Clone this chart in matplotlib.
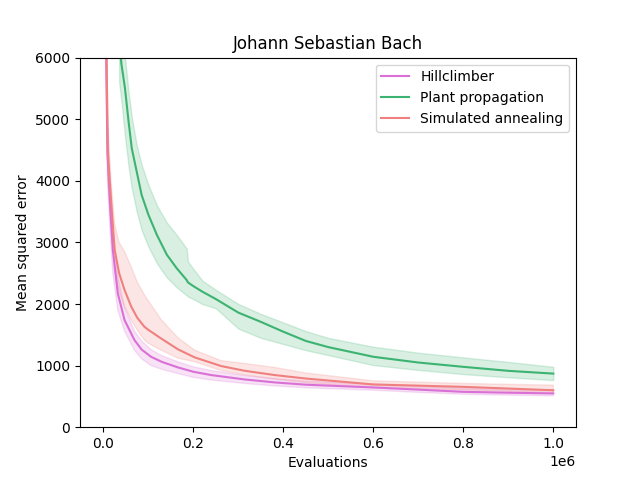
import matplotlib
matplotlib.use("Agg")
import matplotlib.pyplot as plt

# evaluations (in millions, scaled to 1e6 on plot)
hcX = [0.003, 0.009, 0.015, 0.021, 0.032, 0.047, 0.069, 0.085, 0.106, 0.13, 0.166, 0.2, 0.24, 0.314, 0.381, 0.45, 0.6, 0.7, 0.8, 0.9, 1.0]
hcMean = [8000, 4450, 3600, 2880, 2174, 1740, 1415, 1260, 1143, 1060, 970, 900, 846, 775, 727, 690, 645, 610, 574, 560, 548]
hcLow = [7200, 4000, 3150, 2500, 1900, 1560, 1250, 1110, 1000, 940, 870, 810, 765, 710, 670, 640, 600, 565, 535, 520, 510]
hcHigh = [8800, 4900, 4000, 3250, 2450, 1950, 1560, 1400, 1260, 1160, 1060, 980, 920, 840, 790, 750, 700, 665, 630, 610, 600]

ppX = [0.035, 0.04, 0.048, 0.056, 0.063, 0.074, 0.085, 0.1, 0.119, 0.141, 0.163, 0.185, 0.188, 0.2, 0.22, 0.25, 0.3, 0.35, 0.4, 0.45, 0.5, 0.6, 0.7, 0.8, 0.9, 1.0]
ppMean = [6300, 5900, 5500, 4960, 4530, 4150, 3770, 3450, 3120, 2800, 2580, 2390, 2350, 2290, 2200, 2080, 1860, 1710, 1550, 1400, 1300, 1143, 1050, 980, 915, 870]
ppLow = [5600, 5300, 4720, 4230, 3881, 3501, 3200, 2930, 2660, 2430, 2270, 2140, 2120, 2080, 2000, 1930, 1600, 1450, 1350, 1250, 1170, 1008, 930, 862, 810, 765]
ppHigh = [7200, 6700, 6000, 5440, 5040, 4580, 4260, 3935, 3600, 3320, 3122, 2900, 2690, 2570, 2380, 2230, 2000, 1840, 1700, 1560, 1450, 1306, 1210, 1133, 1060, 980]

saX = [0.003, 0.01, 0.017, 0.025, 0.035, 0.047, 0.062, 0.075, 0.091, 0.1, 0.128, 0.166, 0.203, 0.262, 0.314, 0.381, 0.45, 0.6, 0.8, 1.0]
saMean = [8000, 4450, 3690, 2880, 2500, 2228, 1956, 1780, 1631, 1580, 1442, 1263, 1133, 992, 916, 846, 790, 694, 655, 600]
saLow = [7000, 4000, 3200, 2553, 2200, 1956, 1740, 1580, 1415, 1360, 1252, 1120, 1062, 920, 850, 780, 720, 640, 605, 558]
saHigh = [9000, 4900, 4000, 3300, 3000, 2850, 2600, 2360, 2150, 2050, 1750, 1450, 1250, 1080, 1035, 970, 880, 753, 710, 683]

series = [
    ("Hillclimber", "orchid", hcX, hcMean, hcLow, hcHigh),
    ("Plant propagation", "mediumseagreen", ppX, ppMean, ppLow, ppHigh),
    ("Simulated annealing", "lightcoral", saX, saMean, saLow, saHigh),
]

fig, ax = plt.subplots(figsize=(6.4, 4.8), dpi=100)
for name, color, xs, mean, low, high in series:
    xs = [x * 1e6 for x in xs]
    ax.plot(xs, mean, color=color, label=name)
    ax.fill_between(xs, low, high, color=color, alpha=0.2)

ax.set_xlim(-0.052e6, 1.0505e6)
ax.set_ylim(0, 6000)
ax.set_xlabel("Evaluations")
ax.set_ylabel("Mean squared error")
ax.set_title("Johann Sebastian Bach")
ax.legend(loc="upper right")
fig.savefig("out.png")
